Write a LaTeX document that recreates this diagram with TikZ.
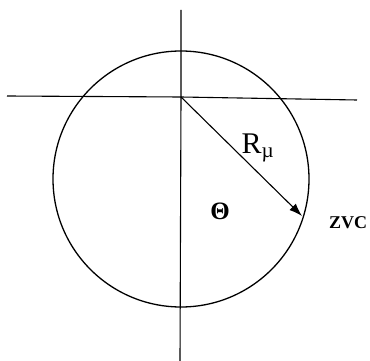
\documentclass[tikz,border=0pt]{standalone}
\usepackage{fontspec}
\setmainfont{Liberation Serif}
\usetikzlibrary{arrows.meta,calc,positioning}

\begin{document}
\begin{tikzpicture}[x=1pt,y=-1pt]
          \useasboundingbox (0,0) rectangle (370,361);
          % axes
          \coordinate (o) at (181,97);
          \coordinate (left) at (7,96);
          \coordinate (right) at (357,100);
          \coordinate (top) at (181,10);
          \coordinate (bottom) at (180,361);
          \draw[line width=1.1pt] (left) -- (o) -- (right);
          \draw[line width=1.1pt] (top) -- (o) -- (bottom);
          % zero velocity curve
          \coordinate (c) at (181,179);
          \draw[line width=1.3pt] (c) circle (128);
          % radius
          \coordinate (rim) at (302,216);
          \draw[line width=1.1pt,-{Latex[length=13pt,width=9pt]}] (o) -- (rim);
          % labels
          \node (rmu) at (258,148) {\fontsize{30}{32}\selectfont R\textsubscript{\textmu}};
          \node (theta) at (220,211) {\fontsize{25}{27}\selectfont\textbf{Θ}};
          \node[inner sep=0pt] (zvc) at (348,223) {\fontsize{18}{20}\selectfont\textbf{ZVC}};
        \end{tikzpicture}
\end{document}
